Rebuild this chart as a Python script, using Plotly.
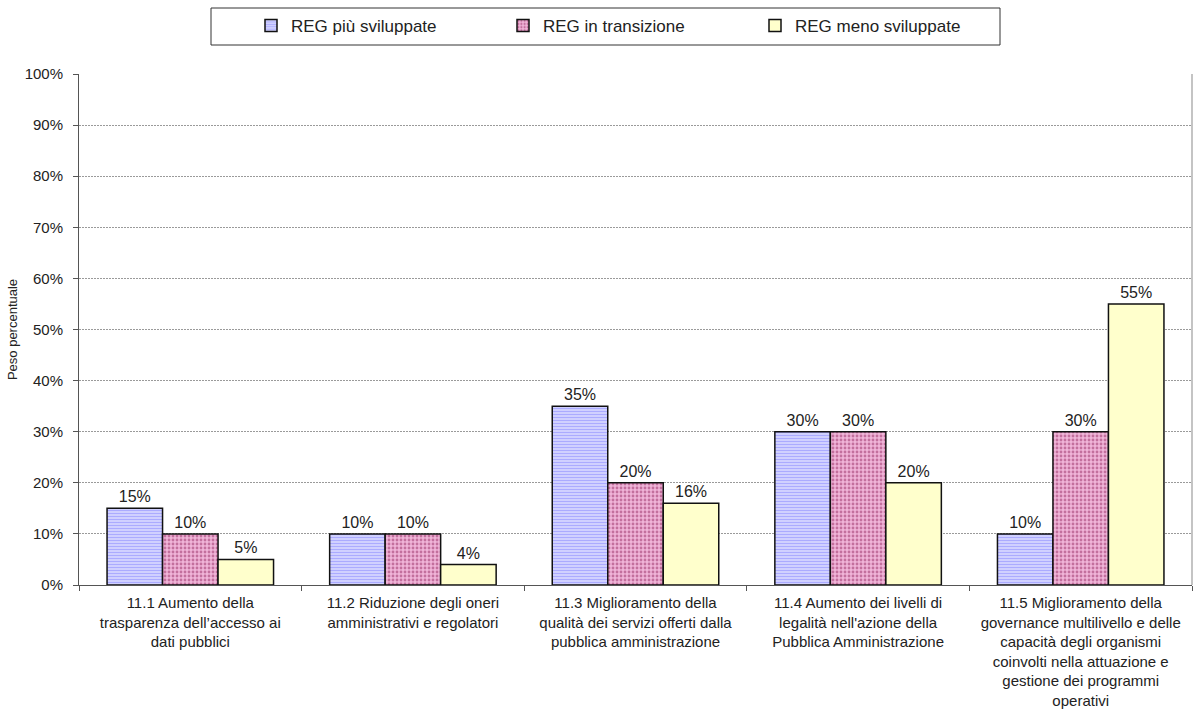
import plotly.graph_objects as go

# Obiettivi specifici dell'Asse 11 (etichette su più righe)
categories = [
    "11.1 Aumento della<br>trasparenza dell’accesso ai<br>dati pubblici",
    "11.2 Riduzione degli oneri<br>amministrativi e regolatori",
    "11.3 Miglioramento della<br>qualità dei servizi offerti dalla<br>pubblica amministrazione",
    "11.4 Aumento dei livelli di<br>legalità nell'azione della<br>Pubblica Amministrazione",
    "11.5 Miglioramento della<br>governance multilivello e delle<br>capacità degli organismi<br>coinvolti nella attuazione e<br>gestione dei programmi<br>operativi",
]

series_names = ["REG più sviluppate", "REG in transizione", "REG meno sviluppate"]

reg_piu_sviluppate = [0.15, 0.10, 0.35, 0.30, 0.10]
reg_in_transizione = [0.10, 0.10, 0.20, 0.30, 0.30]
reg_meno_sviluppate = [0.05, 0.04, 0.16, 0.20, 0.55]

y_ticks = [0, 0.1, 0.2, 0.3, 0.4, 0.5, 0.6, 0.7, 0.8, 0.9, 1.0]

FONT = "Liberation Sans, Arial, sans-serif"

patterns = [
    dict(shape="-", fgcolor="#7a7aff", bgcolor="#dcdcff", size=3, solidity=0.5),
    dict(shape=".", fgcolor="#962a62", bgcolor="#f0b4d8", size=4, solidity=0.4),
    dict(shape="", bgcolor="#ffffcc"),
]
fill_colors = ["#b0b0ff", "#e39ac4", "#ffffcc"]

fig = go.Figure()
for name, vals, pat, col in zip(series_names,
                                [reg_piu_sviluppate, reg_in_transizione, reg_meno_sviluppate],
                                patterns, fill_colors):
    fig.add_trace(go.Bar(
        x=categories,
        y=vals,
        name=name,
        marker=dict(color=col, pattern=pat, line=dict(color="#111111", width=1.5)),
        texttemplate="%{y:.0%}",
        textposition="outside",
        textfont=dict(family=FONT, size=16, color="#222222"),
        cliponaxis=False,
    ))

fig.update_layout(
    width=1200,
    height=713,
    margin=dict(l=79, r=8, t=74, b=128),
    paper_bgcolor="white",
    plot_bgcolor="white",
    barmode="group",
    bargap=0.252,
    bargroupgap=0,
    font=dict(family=FONT, size=15, color="#222222"),
    showlegend=True,
    legend=dict(
        orientation="h",
        xref="container",
        yref="container",
        x=251 / 1200,
        xanchor="left",
        y=1 - 26 / 713,
        yanchor="middle",
        entrywidth=207,
        entrywidthmode="pixels",
        font=dict(family=FONT, size=17, color="#222222"),
        bgcolor="rgba(0,0,0,0)",
        borderwidth=0,
    ),
    xaxis=dict(
        type="category",
        automargin=False,
        showline=True,
        linecolor="#555555",
        linewidth=1,
        ticks="outside",
        tickson="boundaries",
        ticklen=5,
        tickcolor="#555555",
        ticklabelstandoff=4,
        tickfont=dict(family=FONT, size=15, color="#222222"),
        showgrid=False,
    ),
    yaxis=dict(
        range=[0, 1],
        automargin=False,
        tickvals=y_ticks,
        tickformat=".0%",
        showline=True,
        linecolor="#555555",
        linewidth=1,
        ticks="outside",
        ticklen=5,
        tickcolor="#555555",
        ticklabelstandoff=7,
        tickfont=dict(family=FONT, size=15, color="#222222"),
        showgrid=True,
        gridcolor="#9a9a9a",
        gridwidth=1,
        griddash="2px,1px",
        zeroline=False,
        title=dict(text="Peso percentuale",
                   font=dict(family=FONT, size=13, color="#222222"),
                   standoff=4),
    ),
    shapes=[
        # cornice della legenda
        dict(type="rect", xref="paper", yref="paper",
             x0=(211 - 79) / 1113, x1=(1000 - 79) / 1113,
             y0=1 + (74 - 45) / 511, y1=1 + (74 - 8) / 511,
             line=dict(color="#333333", width=1), fillcolor="rgba(0,0,0,0)"),
        # bordo destro dell'area del grafico
        dict(type="line", xref="paper", yref="paper",
             x0=1, x1=1, y0=0, y1=1,
             line=dict(color="#b0b0b0", width=1.5)),
    ],
)

fig.write_html("out.html")
